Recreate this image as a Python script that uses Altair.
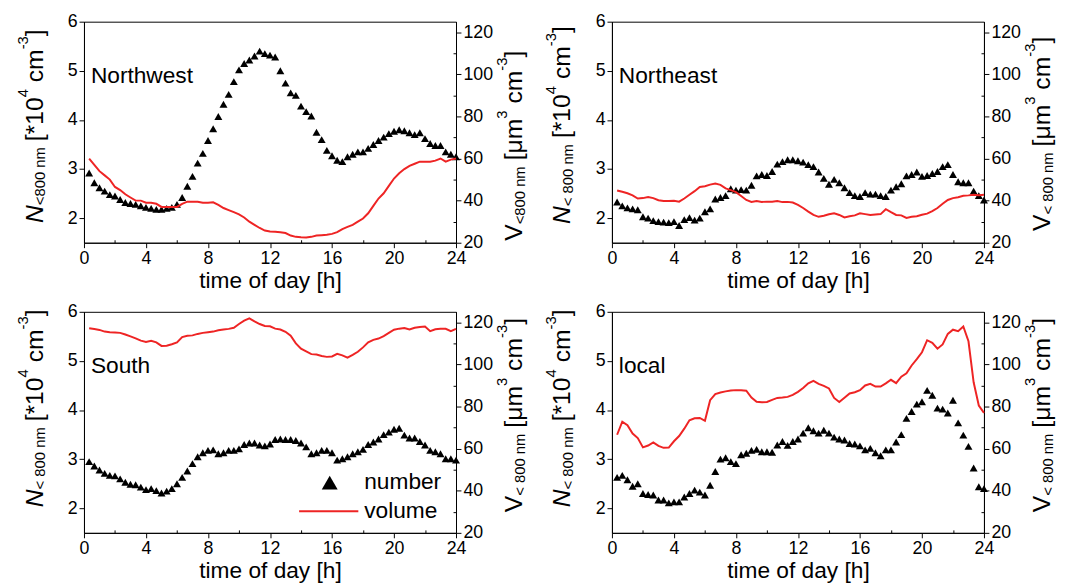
import altair as alt
import pandas as pd

# ---------------- data (20-min resolution) ----------------
HOURS = [round(k / 3, 4) for k in range(1, 73)]

NW_N = [2.92, 2.72, 2.62, 2.55, 2.48, 2.45, 2.38, 2.32, 2.30, 2.28,
        2.25, 2.22, 2.20, 2.18, 2.18, 2.20, 2.22, 2.28, 2.42, 2.65,
        2.85, 3.12, 3.32, 3.58, 3.82, 4.07, 4.32, 4.52, 4.78, 5.02,
        5.15, 5.22, 5.30, 5.40, 5.35, 5.32, 5.28, 5.00, 4.75, 4.55,
        4.50, 4.28, 4.17, 4.08, 3.75, 3.60, 3.38, 3.27, 3.18, 3.15,
        3.25, 3.30, 3.35, 3.35, 3.42, 3.50, 3.58, 3.65, 3.72, 3.77,
        3.80, 3.78, 3.74, 3.70, 3.74, 3.62, 3.52, 3.48, 3.48, 3.35,
        3.30, 3.25]
NW_V = [60, 57, 54, 52, 50, 46.5, 45, 43, 41.5, 40,
        40, 39, 39, 38.5, 37, 37, 37, 37, 38.5, 39.5,
        39.5, 39.5, 39, 39, 39.2, 38, 36.5, 35.5, 34.5, 33.5,
        32, 30, 28.5, 27, 25.8, 25.3, 25.2, 25, 24.6, 23.4,
        22.8, 22.6, 22.5, 22.8, 23.4, 23.6, 23.8, 24.2, 25, 26.5,
        27.5, 28.5, 30, 31.5, 34, 37.5, 41, 43.5, 47, 50.5,
        53, 55, 56.5, 57.5, 58.5, 58.5, 58.5, 59, 60, 58.5,
        59.5, 60]

NE_N = [2.33, 2.25, 2.21, 2.19, 2.17, 2.03, 2.00, 1.95, 1.93, 1.92,
        1.91, 1.93, 1.85, 1.97, 2.01, 1.96, 2.00, 2.13, 2.19, 2.39,
        2.42, 2.46, 2.60, 2.57, 2.58, 2.57, 2.67, 2.86, 2.89, 2.87,
        2.95, 3.10, 3.15, 3.19, 3.19, 3.17, 3.14, 3.09, 3.05, 2.94,
        2.81, 2.69, 2.79, 2.72, 2.62, 2.52, 2.46, 2.44, 2.52, 2.49,
        2.49, 2.46, 2.44, 2.57, 2.64, 2.70, 2.86, 2.89, 2.94, 2.85,
        2.87, 2.91, 2.95, 3.05, 3.09, 2.89, 2.74, 2.72, 2.72, 2.55,
        2.46, 2.37]
NE_V = [44.8, 44.2, 43.5, 42.5, 41.0, 41.2, 41.7, 41.2, 40.2, 39.8,
        39.8, 39.9, 39.5, 41.0, 42.8, 44.5, 46.5, 46.8, 47.6, 48.1,
        47.5, 45.8, 45.0, 44.0, 42.2, 40.3, 39.4, 39.8, 39.4, 39.5,
        39.5, 39.8, 39.3, 39.4, 39.1, 38.0, 36.5, 34.8, 33.2, 32.3,
        32.8, 33.5, 34.0, 33.2, 32.0, 32.6, 33.0, 34.0, 33.6, 33.2,
        33.4, 33.6, 35.9, 34.5, 33.2, 33.0, 31.8, 32.3, 32.6, 33.3,
        33.8, 35.0, 36.5, 38.5, 40.3, 41.2, 41.6, 42.3, 42.5, 42.8,
        42.6, 42.8]

S_N = [2.95, 2.86, 2.78, 2.71, 2.67, 2.66, 2.60, 2.53, 2.49, 2.48,
       2.43, 2.38, 2.40, 2.36, 2.31, 2.35, 2.40, 2.50, 2.63, 2.76,
       2.91, 3.05, 3.13, 3.18, 3.19, 3.11, 3.13, 3.18, 3.18, 3.21,
       3.30, 3.33, 3.33, 3.29, 3.27, 3.31, 3.40, 3.41, 3.40, 3.40,
       3.38, 3.33, 3.25, 3.11, 3.13, 3.18, 3.18, 3.13, 2.98, 3.01,
       3.05, 3.11, 3.15, 3.20, 3.30, 3.35, 3.41, 3.50, 3.55, 3.61,
       3.63, 3.49, 3.43, 3.43, 3.36, 3.29, 3.18, 3.15, 3.11, 3.01,
       3.01, 2.98]
S_V = [117.2, 116.8, 116.4, 115.6, 115.3, 115.2, 115.0, 114.2, 113.3, 112.4,
       111.3, 110.7, 111.2, 110.5, 108.8, 108.9, 109.6, 110.5, 113.0, 113.6,
       113.8, 114.5, 115.0, 115.3, 115.6, 116.2, 116.6, 116.9, 117.4, 119.2,
       120.8, 121.9, 120.5, 119.2, 118.3, 118.1, 117.0, 116.6, 115.5, 113.6,
       110.0, 107.5, 106.2, 104.9, 104.7, 104.0, 103.6, 103.8, 105.0, 104.3,
       103.2, 104.5, 106.0, 108.1, 110.5, 111.7, 112.3, 113.5, 115.0, 116.5,
       117.0, 117.3, 116.6, 117.4, 117.8, 118.0, 115.8, 116.7, 116.9, 116.9,
       115.8, 116.9]

L_N = [2.63, 2.67, 2.58, 2.45, 2.50, 2.30, 2.28, 2.27, 2.17, 2.17,
       2.11, 2.13, 2.13, 2.23, 2.30, 2.37, 2.33, 2.27, 2.47, 2.75,
       3.00, 3.03, 2.95, 2.91, 3.09, 3.12, 3.18, 3.20, 3.15, 3.15,
       3.14, 3.29, 3.36, 3.28, 3.36, 3.41, 3.53, 3.64, 3.58, 3.53,
       3.59, 3.53, 3.45, 3.41, 3.39, 3.32, 3.31, 3.27, 3.19, 3.22,
       3.13, 3.07, 3.19, 3.19, 3.35, 3.50, 3.83, 3.97, 4.12, 4.17,
       4.40, 4.30, 4.04, 4.02, 3.94, 4.20, 3.74, 3.49, 3.26, 2.82,
       2.44, 2.40]
L_V = [66.6, 72.8, 71.1, 67.2, 65.0, 60.6, 61.5, 63.0, 61.3, 60.4,
       60.5, 63.5, 66.0, 69.5, 73.5, 74.4, 74.6, 73.2, 83.0, 85.9,
       86.7, 87.2, 87.6, 87.8, 87.7, 87.5, 84.3, 82.3, 82.0, 82.2,
       83.2, 84.1, 84.3, 84.6, 85.5, 87.0, 88.8, 91.0, 92.2, 90.8,
       89.8, 88.6, 84.1, 82.2, 84.2, 86.2, 86.8, 87.8, 90.0, 90.8,
       89.5, 89.5, 91.0, 92.7, 91.1, 94.2, 95.8, 99.5, 102.5, 105.8,
       111.5, 110.3, 107.5, 109.5, 114.5, 116.5, 115.8, 118.0, 111.0, 91.5,
       80.5, 77.0]

PANELS = ["Northwest", "Northeast", "South", "local"]
X_TICKS = [0, 2, 4, 6, 8, 10, 12, 14, 16, 18, 20, 22, 24]
N_TICKS = [2, 2.5, 3, 3.5, 4, 4.5, 5, 5.5, 6]
V_TICKS = [20, 30, 40, 50, 60, 70, 80, 90, 100, 110, 120]
LEGEND = ["number", "volume"]
X_TITLE = "time of day [h]"

# ---------------- styling ----------------
FONT = "Liberation Sans"
RED = "#ee2424"
W, H = 377, 224
ONE = pd.DataFrame({"k": [0]})

# Arial/Liberation advance widths (per 1000 em) used to lay out rich axis titles
CW = {" ": 278, "<": 584, "n": 556, "m": 833, "[": 278, "]": 278, "*": 389,
      "c": 500, "-": 333, "N": 722, "V": 667, "\u03bc": 576}


def tw(s, size):
    return sum(CW.get(ch, 556) for ch in s) * size / 1000.0


def rich_vertical(pieces, bx, y0):
    layers = []
    y = y0
    for text, size, shift, italic, gap in pieces:
        kw = dict(text=text, angle=270, align="left", baseline="alphabetic",
                  fontSize=size, font=FONT, color="black")
        if italic:
            kw["fontStyle"] = "italic"
        layers.append(alt.Chart(ONE).mark_text(**kw).encode(
            x=alt.value(bx + shift), y=alt.value(y)))
        y -= tw(text, size) + gap
    return layers


def minor(step_major, size_major=5, size_minor=-3):
    return {"condition": {"test": f"abs(datum.value % {step_major}) < 1e-6",
                          "value": size_major}, "value": size_minor}


def lab_expr(step_major):
    return f"abs(datum.value % {step_major}) < 1e-6 ? datum.label : ''"


F, FS = 25, 15


def panel(label, n, v, sub, lbot, rbot, legend=False):
    df = pd.DataFrame({"t": HOURS, "N": n, "V": v})
    x = alt.X("t:Q", scale=alt.Scale(domain=[0, 24], nice=False, zero=False),
              axis=alt.Axis(values=X_TICKS, title=X_TITLE, format="d",
                            tickSize=minor(4), labelExpr=lab_expr(4),
                            labelPadding=2, titlePadding=2, labelOverlap=False,
                            labelFlush=False))
    tri = alt.Chart(df).mark_point(shape="triangle-up", filled=True,
                                   color="black", opacity=1, size=65).encode(
        x=x,
        y=alt.Y("N:Q", scale=alt.Scale(domain=[1.5, 6], nice=False, zero=False),
                axis=alt.Axis(values=N_TICKS, title=None, orient="left",
                              format="d", tickSize=minor(1), labelExpr=lab_expr(1),
                              labelPadding=2, labelOverlap=False, labelFlush=False)))
    line = alt.Chart(df).mark_line(color=RED, strokeWidth=2).encode(
        x=x,
        y=alt.Y("V:Q", scale=alt.Scale(domain=[20, 125], nice=False, zero=False),
                axis=alt.Axis(values=V_TICKS, title=None, orient="right",
                              format="d", tickSize=minor(20), labelExpr=lab_expr(20),
                              labelPadding=2, labelOverlap=False, labelFlush=False)))
    lab = alt.Chart(ONE).mark_text(text=label, align="left", baseline="alphabetic",
                                   fontSize=23, font=FONT, color="black").encode(
        x=alt.value(7), y=alt.value(62))
    left = rich_vertical([("N", F, 0, True, 0), (sub, FS, 3, False, 6),
                          ("[*10", F, 0, False, 0), ("4", FS, -15, False, 7),
                          ("cm", F, 0, False, 0), ("-3", FS, -15, False, 0),
                          ("]", F, 0, False, 0)], -42, lbot)
    right = rich_vertical([("V", F, 0, False, 0), (sub, FS, 3, False, 6),
                           ("[\u03bcm", F, 0, False, 0), ("3", FS, -15, False, 7),
                           ("cm", F, 0, False, 0), ("-3", FS, -15, False, 0),
                           ("]", F, 0, False, 0)], W + 67, rbot)
    layers = [tri, line, lab] + left + right
    if legend:
        layers += [
            alt.Chart(ONE).mark_point(shape="triangle-up", filled=True, color="black",
                                      opacity=1, size=260).encode(
                x=alt.value(249), y=alt.value(173)),
            alt.Chart(ONE).mark_rule(color=RED, strokeWidth=2).encode(
                x=alt.value(218), x2=alt.value(278), y=alt.value(202)),
            alt.Chart(ONE).mark_text(text=LEGEND[0], align="left", baseline="middle",
                                     fontSize=23, font=FONT, color="black").encode(
                x=alt.value(284), y=alt.value(173)),
            alt.Chart(ONE).mark_text(text=LEGEND[1], align="left", baseline="middle",
                                     fontSize=23, font=FONT, color="black").encode(
                x=alt.value(284), y=alt.value(202)),
        ]
    return alt.layer(*layers).resolve_scale(y="independent").properties(width=W, height=H)


p1 = panel(PANELS[0], NW_N, NW_V, "<800 nm", 204, 222)
p2 = panel(PANELS[1], NE_N, NE_V, "< 800 nm", 205, 212)
p3 = panel(PANELS[2], S_N, S_V, "< 800 nm", 198, 203, legend=True)
p4 = panel(PANELS[3], L_N, L_V, "< 800 nm", 198, 203)

chart = alt.concat(p1, p2, p3, p4, columns=2,
                   spacing={"row": 9, "column": 14}).configure_view(
    stroke="black", strokeWidth=1
).configure_axis(
    labelFont=FONT, titleFont=FONT, labelFontSize=18, titleFontSize=23,
    labelColor="black", titleColor="black", titleFontWeight="normal",
    domainColor="black", tickColor="black", grid=False, domainWidth=1, tickWidth=1
).properties(padding={"left": 7, "top": 0, "right": 0, "bottom": 0})

chart.save("out.html", embed_options={"renderer": "svg", "actions": False})
